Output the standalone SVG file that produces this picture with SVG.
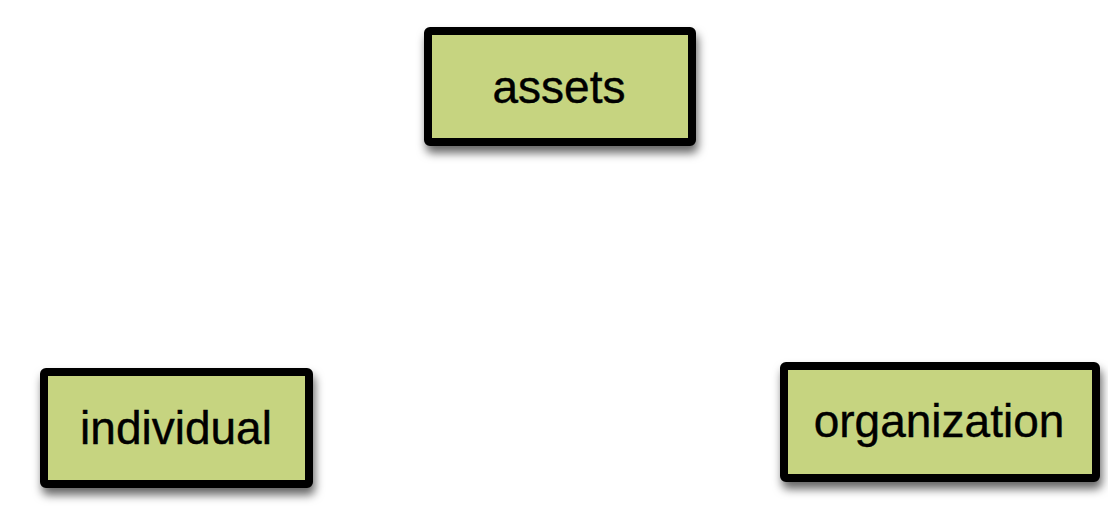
<svg xmlns="http://www.w3.org/2000/svg" width="1108" height="520" viewBox="0 0 1108 520">
  <style>
    .box { fill: #c6d480; stroke: #000; stroke-width: 8; filter: url(#shadow); }
    .label { font-family: "Liberation Sans", Arial, sans-serif; font-size: 46px; fill: #000; text-anchor: middle; stroke: #000; stroke-width: 0.4; }
  </style>
  <defs>
    <filter id="shadow" x="-20%" y="-20%" width="140%" height="170%">
      <feDropShadow dx="2" dy="7" stdDeviation="5" flood-color="#000" flood-opacity="0.6"/>
    </filter>
  </defs>
  <rect width="1108" height="520" fill="#fff"/>
  <g id="connectors"></g>
  <g id="assets">
    <rect class="box" x="428" y="31" width="264" height="111" rx="2"/>
    <text class="label" x="559" y="103">assets</text>
  </g>
  <g id="individual">
    <rect class="box" x="44" y="372" width="265" height="112" rx="2"/>
    <text class="label" x="176" y="444">individual</text>
  </g>
  <g id="organization">
    <rect class="box" x="784" y="366" width="312" height="112" rx="2"/>
    <text class="label" x="939" y="437">organization</text>
  </g>
</svg>
